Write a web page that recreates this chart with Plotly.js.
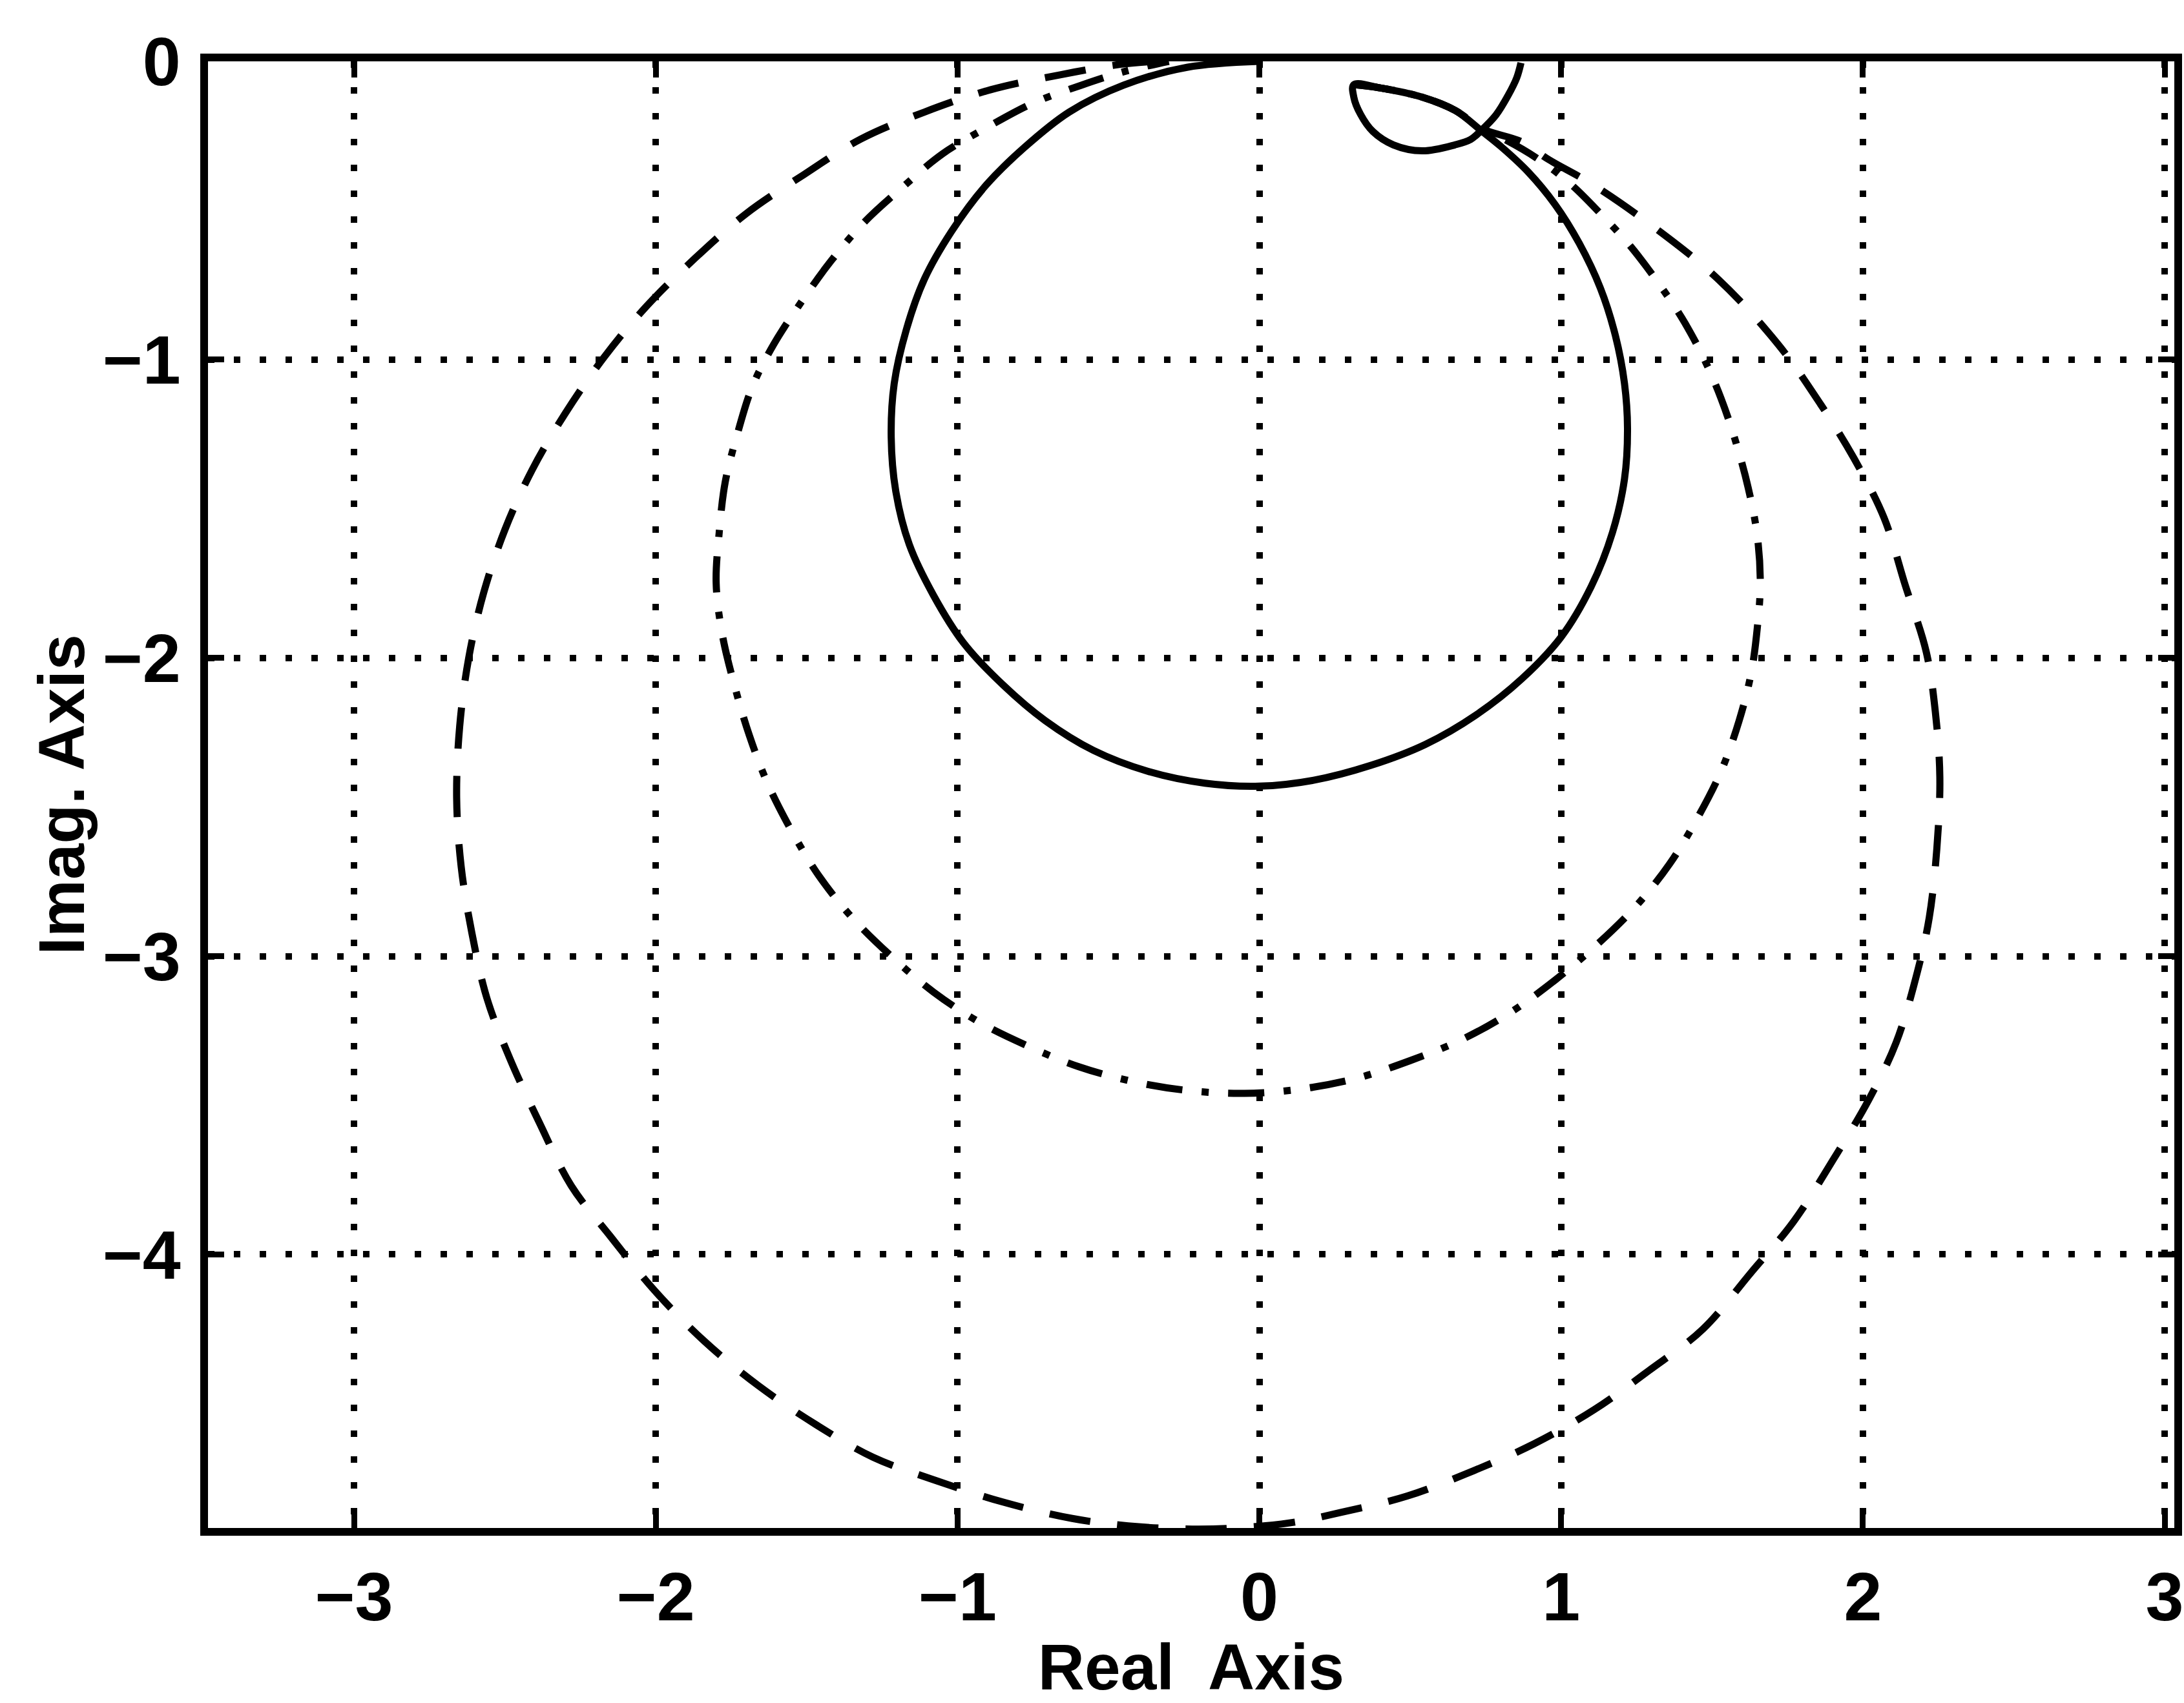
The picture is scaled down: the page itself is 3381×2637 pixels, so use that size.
<!DOCTYPE html>
<html>
<head>
<meta charset="utf-8">
<script src="https://cdn.plot.ly/plotly-3.0.1.min.js"></script>
<style>html,body{margin:0;padding:0;background:#fff;}#chart{width:3381px;height:2637px;}</style>
</head>
<body>
<div id="chart"></div>
<script>
// Solid curve: branch from top right, small loop, then the inner circle
const solidX = [0.867, 0.853, 0.825, 0.784, 0.735, 0.70, 0.648, 0.54, 0.444, 0.376, 0.335, 0.313, 0.313, 0.40, 0.54, 0.65, 0.735, 0.80, 0.89, 0.98, 1.06, 1.13, 1.18, 1.21, 1.22, 1.21, 1.17, 1.10, 1.00, 0.87, 0.72, 0.55, 0.37, 0.18, 0.0, -0.18, -0.37, -0.55, -0.71, -0.85, -0.98, -1.08, -1.16, -1.205, -1.22, -1.21, -1.17, -1.11, -1.02, -0.91, -0.78, -0.63, -0.45, -0.24, 0.0];
const solidY = [-0.005, -0.055, -0.113, -0.18, -0.232, -0.262, -0.28, -0.30, -0.28, -0.235, -0.177, -0.12, -0.078, -0.089, -0.12, -0.165, -0.232, -0.285, -0.37, -0.48, -0.61, -0.76, -0.92, -1.08, -1.23, -1.40, -1.58, -1.76, -1.93, -2.07, -2.19, -2.29, -2.36, -2.41, -2.43, -2.42, -2.38, -2.31, -2.21, -2.09, -1.95, -1.79, -1.62, -1.44, -1.26, -1.08, -0.90, -0.73, -0.57, -0.42, -0.29, -0.17, -0.08, -0.02, 0.0];

// Dash-dot curve
const dashdotX = [0.313, 0.40, 0.54, 0.65, 0.735, 0.81, 0.92, 1.03, 1.13, 1.23, 1.32, 1.40, 1.47, 1.53, 1.58, 1.62, 1.65, 1.66, 1.65, 1.63, 1.59, 1.53, 1.45, 1.36, 1.25, 1.12, 0.98, 0.83, 0.67, 0.50, 0.32, 0.14, -0.05, -0.24, -0.42, -0.60, -0.77, -0.93, -1.08, -1.22, -1.35, -1.46, -1.55, -1.63, -1.69, -1.74, -1.78, -1.80, -1.79, -1.77, -1.73, -1.68, -1.61, -1.52, -1.42, -1.31, -1.18, -1.05, -0.90, -0.75, -0.59, -0.45, -0.30];
const dashdotY = [-0.078, -0.089, -0.12, -0.165, -0.225, -0.26, -0.325, -0.41, -0.51, -0.62, -0.74, -0.86, -0.99, -1.13, -1.28, -1.43, -1.59, -1.75, -1.90, -2.05, -2.21, -2.38, -2.54, -2.69, -2.83, -2.96, -3.08, -3.19, -3.28, -3.35, -3.41, -3.445, -3.46, -3.45, -3.42, -3.37, -3.30, -3.22, -3.12, -3.00, -2.87, -2.73, -2.58, -2.42, -2.26, -2.09, -1.92, -1.75, -1.58, -1.41, -1.25, -1.09, -0.95, -0.81, -0.67, -0.54, -0.42, -0.31, -0.22, -0.14, -0.08, -0.035, 0.0];

// Dashed curve
const dashedX = [0.313, 0.40, 0.54, 0.65, 0.735, 0.87, 0.96, 1.10, 1.30, 1.52, 1.72, 1.86, 1.97, 2.07, 2.14, 2.21, 2.24, 2.255, 2.245, 2.22, 2.18, 2.11, 2.02, 1.90, 1.77, 1.63, 1.47, 1.29, 1.11, 0.91, 0.71, 0.49, 0.27, 0.10, -0.10, -0.25, -0.435, -0.62, -0.85, -1.08, -1.28, -1.47, -1.66, -1.84, -2.005, -2.15, -2.28, -2.385, -2.485, -2.56, -2.61, -2.645, -2.66, -2.65, -2.62, -2.57, -2.50, -2.41, -2.30, -2.17, -2.03, -1.87, -1.70, -1.51, -1.32, -1.11, -0.89, -0.66, -0.46, -0.35];
const dashedY = [-0.078, -0.089, -0.12, -0.165, -0.225, -0.27, -0.33, -0.41, -0.55, -0.73, -0.95, -1.15, -1.33, -1.53, -1.755, -1.98, -2.18, -2.40, -2.64, -2.87, -3.055, -3.29, -3.48, -3.685, -3.89, -4.06, -4.25, -4.39, -4.52, -4.635, -4.725, -4.81, -4.865, -4.90, -4.918, -4.92, -4.91, -4.885, -4.83, -4.755, -4.68, -4.57, -4.44, -4.29, -4.12, -3.94, -3.77, -3.56, -3.34, -3.14, -2.92, -2.70, -2.47, -2.23, -2.00, -1.78, -1.57, -1.37, -1.18, -0.99, -0.82, -0.66, -0.51, -0.38, -0.26, -0.17, -0.095, -0.045, -0.01, 0.0];

// Axis ticks and titles
const xTicks = [-3, -2, -1, 0, 1, 2, 3];
const yTicks = [0, -1, -2, -3, -4];
const xTitle = 'Real  Axis';
const yTitle = 'Imag. Axis';

const FONT = 'Liberation Sans, Arial, Helvetica, sans-serif';
const lineW = 11;

const traces = [
  {x: solidX, y: solidY, mode: 'lines', line: {color: '#000', width: lineW, dash: 'solid', shape: 'spline', smoothing: 1}},
  {x: dashdotX, y: dashdotY, mode: 'lines', line: {color: '#000', width: lineW, dash: '56px,30px,11px,30px', shape: 'spline', smoothing: 1}},
  {x: dashedX, y: dashedY, mode: 'lines', line: {color: '#000', width: lineW, dash: '64px,42px', shape: 'spline', smoothing: 1}}
];

const axisCommon = {
  showline: true, linecolor: '#000', linewidth: 12, mirror: 'ticks',
  ticks: 'inside', ticklen: 25, tickwidth: 9, tickcolor: '#000',
  showgrid: true, gridcolor: '#000', gridwidth: 10, griddash: '10px,30px',
  zeroline: false,
  tickfont: {family: FONT, size: 106, color: '#000', weight: 'bold'}
};

const layout = {
  width: 3381, height: 2637,
  paper_bgcolor: '#fff', plot_bgcolor: '#fff',
  showlegend: false,
  margin: {l: 322, r: 15, t: 95, b: 271, pad: 0},
  xaxis: Object.assign({}, axisCommon, {
    range: [-3.484, 3.032], tickvals: xTicks, ticklabelstandoff: 4,
    title: {text: xTitle, font: {family: FONT, size: 100, color: '#000', weight: 'bold'}, standoff: 10}
  }),
  yaxis: Object.assign({}, axisCommon, {
    range: [-4.917, 0], tickvals: yTicks, ticklabelstandoff: 9,
    title: {text: yTitle, font: {family: FONT, size: 100, color: '#000', weight: 'bold'}, standoff: 0}
  })
};

Plotly.newPlot('chart', traces, layout, {staticPlot: true, displayModeBar: false});
</script>
</body>
</html>
